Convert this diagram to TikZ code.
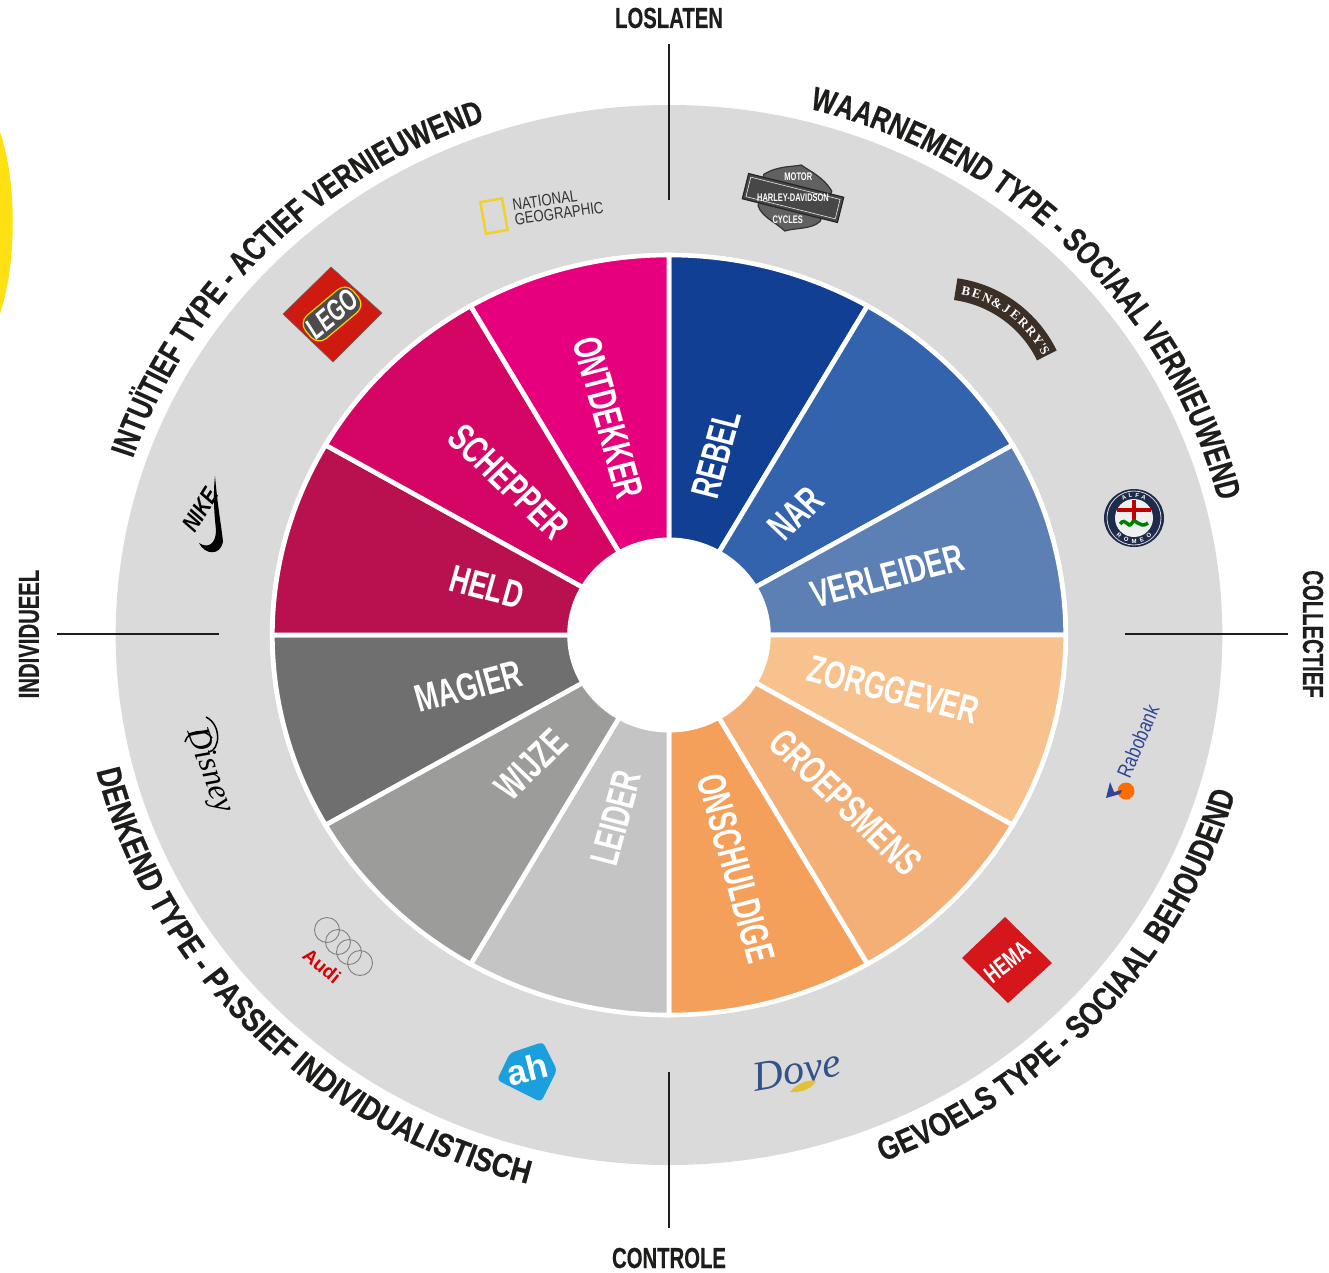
\documentclass[tikz,border=0pt]{standalone}
\usepackage{fontspec}
\usetikzlibrary{decorations.text}
\setmainfont{Liberation Sans}
\newfontfamily\cond[FakeStretch=0.68]{Liberation Sans}
\newfontfamily\condAxis[FakeStretch=0.70,FakeBold=0.4]{Liberation Sans}
\newfontfamily\condTop[FakeStretch=0.75,FakeBold=0.4]{Liberation Sans}
\newfontfamily\condBot[FakeStretch=0.79,FakeBold=0.4]{Liberation Sans}
\newfontfamily\condBotL[FakeStretch=0.81,FakeBold=0.4]{Liberation Sans}
\newfontfamily\narrowsf[FakeStretch=0.8]{Liberation Sans}
\newfontfamily\serifit{Liberation Serif}
\definecolor{ringgray}{HTML}{DADADA}
\definecolor{cRebel}{HTML}{113F93}
\definecolor{cNar}{HTML}{3263AC}
\definecolor{cVerl}{HTML}{5D80B4}
\definecolor{cZorg}{HTML}{F7C28E}
\definecolor{cGroep}{HTML}{F3AF76}
\definecolor{cOnsch}{HTML}{F4A05A}
\definecolor{cLeid}{HTML}{C4C4C4}
\definecolor{cWijz}{HTML}{9C9C9B}
\definecolor{cMag}{HTML}{6F6F6F}
\definecolor{cHeld}{HTML}{B9114F}
\definecolor{cSchep}{HTML}{D50566}
\definecolor{cOntd}{HTML}{E6007E}
\definecolor{ink}{HTML}{1D1D1B}
\definecolor{cYellow}{HTML}{FFE012}
\definecolor{cHema}{HTML}{D5161A}
\definecolor{cLego}{HTML}{CF1A12}
\definecolor{cDove}{HTML}{33528A}
\definecolor{cAh}{HTML}{1CA0DD}
\definecolor{cRabo}{HTML}{2F4596}
\definecolor{cBen}{HTML}{3B2F27}
\definecolor{cAlfa}{HTML}{1E2B4A}
\tikzset{
  seclabel/.style={text=white,inner sep=0pt,font=\cond\bfseries\fontsize{38.5}{38.5}\selectfont},
  axislabel/.style={text=ink,inner sep=0pt,font=\condAxis\bfseries\fontsize{29}{29}\selectfont},
  axisline/.style={draw=ink,line width=1.3pt},
  sector/.style={draw=white,line width=4.6pt,line join=miter},
  logotxt/.style={inner sep=0pt},
  arctop/.style={decorate,decoration={text along path,text align={align=center},
     text={|\condTop\bfseries\fontsize{33}{33}\selectfont\color{ink}|#1}}},
  arcbot/.style={decorate,decoration={text along path,text align={align=center},
     text={|\condBot\bfseries\fontsize{33}{33}\selectfont\color{ink}|#1}}},
  arcbotl/.style={decorate,decoration={text along path,text align={align=center},
     text={|\condBotL\bfseries\fontsize{33}{33}\selectfont\color{ink}|#1}}}
}
\begin{document}
\begin{tikzpicture}[x=1pt,y=-1pt]
\useasboundingbox (0,0) rectangle (1329,1272);
\fill[white] (0,0) rectangle (1329,1272);
% yellow edge
\fill[cYellow] (0,132) .. controls (17,180) and (17,265) .. (0,313) -- cycle;

\begin{scope}[x=1pt,y=1pt,transform canvas={shift={(669pt,-635pt)},xscale=1.044}]
  \fill[ringgray] (0,0) circle (530);
  \fill[white] (0,0) circle (382);
  \foreach \a/\c in {60/cRebel,30/cNar,0/cVerl,-30/cZorg,-60/cGroep,-90/cOnsch,240/cLeid,210/cWijz,180/cMag,150/cHeld,120/cSchep,90/cOntd}{
    \pgfmathsetmacro\b{\a+30}
    \path[sector,fill=\c] (\a:80) -- (\a:380) arc (\a:\b:380) -- (\b:80) -- cycle;
  }
  \fill[white] (0,0) circle (97.5);
  \node[seclabel,rotate=75]  (rebel) at (76:186) {REBEL};
  \node[seclabel,rotate=45]  (nar) at (45:172) {NAR};
  \node[seclabel,rotate=15]  (verl) at (15.8:217) {VERLEIDER};
  \node[seclabel,rotate=-15] (zorg) at (-14.3:222) {ZORGGEVER};
  \node[seclabel,rotate=-45] (groep) at (-44.6:238) {GROEPSMENS};
  \node[seclabel,rotate=-75] (onsch) at (-74.6:242) {ONSCHULDIGE};
  \node[seclabel,rotate=75]  (leider) at (254.4:190) {LEIDER};
  \node[seclabel,rotate=45]  (wijze) at (224.5:185) {WIJZE};
  \node[seclabel,rotate=15]  (magier) at (195:199) {MAGIER};
  \node[seclabel,rotate=-15] (held) at (164.6:181) {HELD};
  \node[seclabel,rotate=-45] (schepper) at (135:217) {SCHEPPER};
  \node[seclabel,rotate=-75] (ontd) at (105:225) {ONTDEKKER};
  % curved headings
  \path[arctop={WAARNEMEND TYPE - SOCIAAL VERNIEUWEND}] (90:543) arc (90:0:543);
  \path[arctop={INTUÏTIEF TYPE - ACTIEF VERNIEUWEND}] (180:543) arc (180:90:543);
  \path[arcbotl={DENKEND TYPE - PASSIEF INDIVIDUALISTISCH}] (180:565) arc (180:270:565);
  \path[arcbot={GEVOELS TYPE - SOCIAAL BEHOUDEND}] (-87.5:565) arc (-87.5:2.5:565);
\end{scope}

% axis labels and lines
\coordinate (lt) at (669,44);  \coordinate (lb) at (669,200);
\coordinate (ct) at (669,1072);\coordinate (cb) at (669,1228);
\coordinate (il) at (57,634);  \coordinate (ir) at (219,634);
\coordinate (cl) at (1125,634);\coordinate (cr) at (1288,634);
\draw[axisline] (lt) -- (lb);
\draw[axisline] (ct) -- (cb);
\draw[axisline] (il) -- (ir);
\draw[axisline] (cl) -- (cr);
\node[axislabel] (loslaten) at (669,18) {LOSLATEN};
\node[axislabel] (controle) at (669,1258) {CONTROLE};
\node[axislabel,rotate=90] (indiv) at (29,634) {INDIVIDUEEL};
\node[axislabel,rotate=-90] (coll) at (1313,634) {COLLECTIEF};

% National Geographic
\begin{scope}[shift={(494,216)},rotate=10]
  \draw[draw={rgb,255:red,240;green,208;blue,50},line width=2.6pt] (-11,-16) rectangle (11,16);
\end{scope}
\node[logotxt,rotate=8,align=left,text=black!80,font=\fontsize{16.5}{15}\selectfont\narrowsf] (natgeo) at (558,206) {NATIONAL\\GEOGRAPHIC};

% Harley
\begin{scope}[shift={(793,198)},rotate=-14]
  \path[fill=black!62,draw=black!80,line width=1.2pt] (-34,-16) .. controls (-22,-28) and (-8,-30) .. (0,-34) .. controls (10,-30) and (24,-28) .. (36,-16) -- (32,16) .. controls (26,26) and (10,28) .. (0,34) .. controls (-10,28) and (-26,26) .. (-32,16) -- cycle;
  \draw[fill=black!72,draw=black!85,line width=1.2pt] (-49,-13) rectangle (49,13);
  \draw[draw=white!85!gray,line width=.6pt] (-46,-10) rectangle (46,10);
  \node[logotxt,text=white,font=\cond\bfseries\fontsize{11}{11}\selectfont] (hdbar) at (0,0) {HARLEY-DAVIDSON};
  \node[logotxt,text=white,font=\cond\bfseries\fontsize{11}{11}\selectfont] (hdm) at (0,-22) {MOTOR};
  \node[logotxt,text=white,font=\cond\bfseries\fontsize{11}{11}\selectfont] (hdc) at (0,22) {CYCLES};
\end{scope}

% Ben & Jerry's
\begin{scope}[x=1pt,y=1pt,shift={(939pt,-408pt)}]
  \draw[draw=cBen,line width=22pt] (82:120) arc (82:26:120);
  \foreach \ch [count=\i] in {B,E,N,\&,J,E,R,R,Y,{'S}}{
    \pgfmathsetmacro\ang{77-(\i-1)*5.3}
    \pgfmathsetmacro\rot{\ang-90}
    \node[logotxt,text=white,rotate=\rot,font=\serifit\bfseries\fontsize{13}{13}\selectfont] (bj\i) at (\ang:120) {\ch};
  }
\end{scope}

% Alfa Romeo
\begin{scope}[x=1pt,y=1pt,shift={(1134pt,-518pt)}]
  \fill[cAlfa] (0,0) ellipse (30 and 29);
  \draw[white!70!gray,line width=.8pt] (0,0) circle (27);
  \fill[white!88!gray] (0,0) circle (19);
  \fill[red!75!black] (-17,6) rectangle (17,10);
  \fill[red!75!black] (-2,-3) rectangle (2,18);
  \draw[green!50!black,line width=3.5pt] (-14,-6) .. controls (-8,2) and (-6,-12) .. (-2,-5) .. controls (1,2) and (5,-12) .. (14,-5);
  \foreach \ch [count=\i] in {A,L,F,A}{
    \pgfmathsetmacro\ang{116-(\i-1)*17}
    \pgfmathsetmacro\rot{\ang-90}
    \node[logotxt,text=white,rotate=\rot,font=\fontsize{6}{6}\selectfont\bfseries] (af\i) at (\ang:23) {\ch};
  }
  \foreach \ch [count=\i] in {R,O,M,E,O}{
    \pgfmathsetmacro\ang{-130+(\i-1)*20}
    \pgfmathsetmacro\rot{\ang+90}
    \node[logotxt,text=white,rotate=\rot,font=\fontsize{6}{6}\selectfont\bfseries] (ar\i) at (\ang:23) {\ch};
  }
\end{scope}

% Rabobank
\node[logotxt,rotate=67,text=cRabo,font=\fontsize{21}{21}\selectfont\narrowsf] (rabo) at (1138,741) {Rabobank};
\fill[orange!85!red] (1126,791) circle (8.5);
\fill[cRabo] (1106,798) -- (1110,782) -- (1114,792) -- (1122,790) -- (1120,794) -- cycle;

% HEMA
\fill[cHema] (1005,917) -- (1052,963) -- (1008,1003) -- (962,958) -- cycle;
\node[logotxt,rotate=38,text=white,font=\cond\bfseries\fontsize{25}{25}\selectfont] (hema) at (1007,962) {HEMA};

% Dove
\node[logotxt,rotate=10,text=cDove,font=\serifit\itshape\fontsize{42}{42}\selectfont] (dove) at (797,1070) {Dove};
\fill[yellow!50!brown] (790,1092) .. controls (796,1084) and (808,1079) .. (816,1081) .. controls (812,1089) and (800,1093) .. cycle;

% AH
\fill[cAh,rounded corners=4pt] (497,1080) -- (510,1053) -- (543,1042) -- (557,1070) -- (541,1102) -- cycle;
\node[logotxt,rotate=14,text=white,font=\bfseries\fontsize{35}{35}\selectfont] (ah) at (527,1069) {ah};

% Audi
\foreach \x/\y in {327/930,338/942,349/952,360/963}{
  \draw[draw=black!50,line width=.9pt] (\x,\y) circle (12.5);
}
\node[logotxt,rotate=-40,text=red!85!black,font=\bfseries\fontsize{19}{19}\selectfont] (audi) at (322,966) {Audi};

% Disney
\node[logotxt,rotate=-70,text=black,font=\serifit\itshape\fontsize{32}{32}\selectfont] (disney) at (209,771) {Disney};
\draw[black,line width=1.5pt] (206,717) .. controls (222,725) and (220,750) .. (209,752);
\draw[black,line width=1.5pt] (185,742) .. controls (188,730) and (205,728) .. (212,738);

% Nike
\fill[black] (215,476) .. controls (218,510) and (222,530) .. (223,542) .. controls (220,556) and (205,555) .. (199,543) .. controls (208,549) and (216,544) .. (216,530) .. controls (214,512) and (213,495) .. (215,476) -- cycle;
\node[logotxt,rotate=58,text=black,font=\narrowsf\bfseries\itshape\fontsize{24}{24}\selectfont] (nike) at (200,510) {NIKE};

% LEGO
\fill[cLego,draw=black!60,line width=.6pt] (331,267) -- (382,313) -- (333,362) -- (283,314) -- cycle;
\begin{scope}[shift={(332,314)},rotate=40]
  \fill[black!70,draw=yellow!70!orange,line width=1.2pt,rounded corners=11pt] (-31,-15) rectangle (31,15);
\end{scope}
\node[logotxt,rotate=40,text=white,font=\cond\bfseries\itshape\fontsize{30}{30}\selectfont] (lego) at (332,314) {LEGO};
\end{tikzpicture}
\end{document}
